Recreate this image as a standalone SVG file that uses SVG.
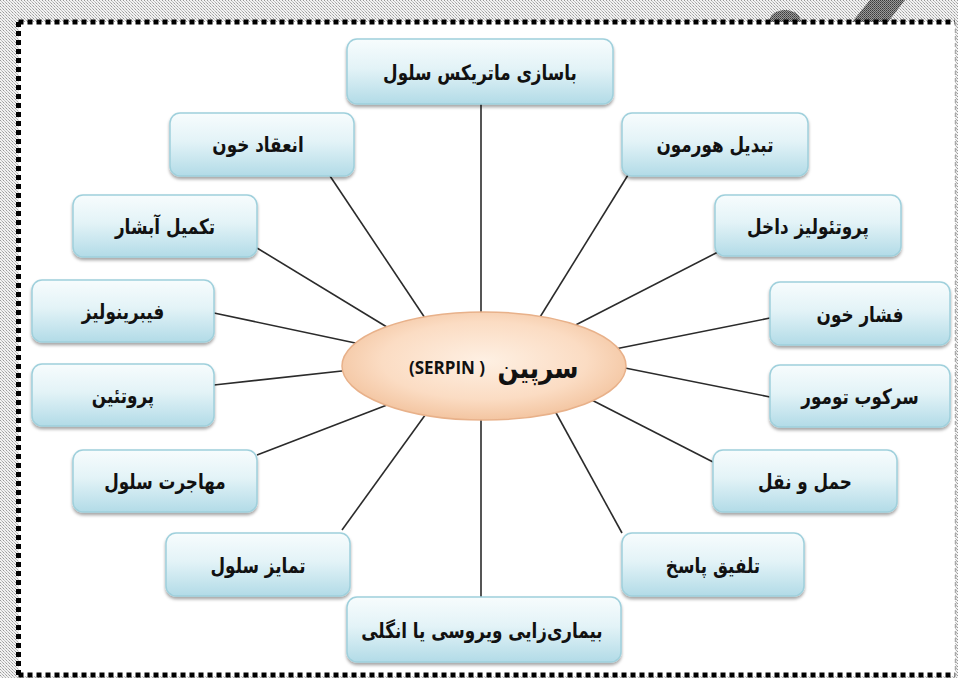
<svg xmlns="http://www.w3.org/2000/svg" width="958" height="678" viewBox="0 0 958 678">
<defs>
<pattern id="dith" width="3" height="3" patternUnits="userSpaceOnUse">
<rect width="3" height="3" fill="#f2f2f2"/>
<rect x="0" y="0" width="1" height="1" fill="#9a9a9a"/>
<rect x="1" y="1" width="1" height="1" fill="#c4c4c4"/>
<rect x="2" y="2" width="1" height="1" fill="#b0b0b0"/>
</pattern>
<pattern id="dark" width="2" height="2" patternUnits="userSpaceOnUse">
<rect width="2" height="2" fill="#9a9a9a"/>
<rect width="1" height="1" fill="#3a3a3a"/>
<rect x="1" y="1" width="1" height="1" fill="#555"/>
</pattern>
<linearGradient id="boxg" x1="0" y1="0" x2="0" y2="1">
<stop offset="0" stop-color="#f7fcfd"/>
<stop offset="0.45" stop-color="#e3f3f7"/>
<stop offset="1" stop-color="#b2dbe7"/>
</linearGradient>
<radialGradient id="ellg" cx="0.5" cy="0.45" r="0.6">
<stop offset="0" stop-color="#fef0e3"/>
<stop offset="0.6" stop-color="#fbdcc3"/>
<stop offset="1" stop-color="#f1bf98"/>
</radialGradient>
<filter id="sh" x="-10%" y="-10%" width="120%" height="135%">
<feDropShadow dx="0" dy="2.5" stdDeviation="1.5" flood-color="#000" flood-opacity="0.35"/>
</filter>
</defs>
<style>
.box{fill:url(#boxg);stroke:#9fd0dc;stroke-width:1.5;filter:url(#sh)}
.lbl{font-family:"DejaVu Sans","Noto Sans",sans-serif;font-weight:bold;font-size:21px;fill:#111;text-anchor:middle}
.con line{stroke:#2b2b2b;stroke-width:1.6}
</style>
<rect width="958" height="678" fill="url(#dith)"/>
<path d="M769 22 A16 12 0 0 1 801 22 Z" fill="url(#dark)"/>
<polygon points="870,0 905,0 888,22 852,22" fill="url(#dark)"/>
<rect x="18.5" y="22" width="936.5" height="654" fill="#fff"/>
<g fill="none">
<line x1="18.5" y1="22" x2="955" y2="22" stroke="#000" stroke-width="5" stroke-dasharray="5 4"/>
<line x1="18.5" y1="22" x2="18.5" y2="676" stroke="#000" stroke-width="5" stroke-dasharray="5 4"/>
<line x1="18.5" y1="675" x2="955" y2="675" stroke="#000" stroke-width="5" stroke-dasharray="5 4"/>
<line x1="955.5" y1="22" x2="955.5" y2="676" stroke="#aaa" stroke-width="1.5" stroke-dasharray="4 3"/>
</g>
<g id="connectors" class="con">
<line x1="481" y1="104" x2="481" y2="330"/>
<line x1="330" y1="176" x2="433" y2="330"/>
<line x1="257" y1="248" x2="400" y2="335"/>
<line x1="214" y1="313" x2="360" y2="344"/>
<line x1="214" y1="385" x2="360" y2="369"/>
<line x1="257" y1="455" x2="400" y2="400"/>
<line x1="342" y1="530" x2="436" y2="400"/>
<line x1="481" y1="597" x2="481" y2="400"/>
<line x1="622" y1="533" x2="549" y2="400"/>
<line x1="713" y1="462" x2="580" y2="394"/>
<line x1="770" y1="397" x2="600" y2="363"/>
<line x1="770" y1="318" x2="600" y2="352"/>
<line x1="718" y1="252" x2="560" y2="333"/>
<line x1="628" y1="175" x2="532" y2="330"/>
</g>
<g id="center">
<ellipse cx="484" cy="366" rx="142" ry="54" fill="url(#ellg)" stroke="#e8b18a" stroke-width="1.5"/>
<text transform="translate(538 378) scale(0.85 1)" font-family="DejaVu Sans,sans-serif" font-weight="bold" font-size="29" fill="#111" text-anchor="middle">سرپین</text>
<text x="447" y="374" font-family="'Open Sans','DejaVu Sans',sans-serif" font-weight="bold" font-size="17" fill="#111" text-anchor="middle">(SERPIN )</text>
</g>
<g id="n-matrix"><rect class="box" x="347" y="39" width="266" height="65" rx="10"/><text class="lbl" transform="translate(480 80) scale(0.8 1)">باسازی ماتریکس سلول</text></g>
<g id="n-coag"><rect class="box" x="170" y="113" width="184" height="63" rx="10"/><text class="lbl" transform="translate(258 152) scale(0.8 1)">انعقاد خون</text></g>
<g id="n-hormone"><rect class="box" x="622" y="113" width="186" height="63" rx="10"/><text class="lbl" transform="translate(715 152) scale(0.8 1)">تبدیل هورمون</text></g>
<g id="n-complement"><rect class="box" x="73" y="195" width="184" height="62" rx="10"/><text class="lbl" transform="translate(165 234) scale(0.8 1)">تکمیل آبشار</text></g>
<g id="n-proteolysis"><rect class="box" x="715" y="195" width="186" height="61" rx="10"/><text class="lbl" transform="translate(808 234) scale(0.8 1)">پروتئولیز داخل</text></g>
<g id="n-fibrinolysis"><rect class="box" x="32" y="280" width="182" height="62" rx="10"/><text class="lbl" transform="translate(123 319) scale(0.8 1)">فیبرینولیز</text></g>
<g id="n-bp"><rect class="box" x="770" y="282" width="180" height="63" rx="10"/><text class="lbl" transform="translate(860 322) scale(0.8 1)">فشار خون</text></g>
<g id="n-protein"><rect class="box" x="32" y="364" width="182" height="62" rx="10"/><text class="lbl" transform="translate(123 403) scale(0.8 1)">پروتئین</text></g>
<g id="n-tumor"><rect class="box" x="770" y="365" width="180" height="62" rx="10"/><text class="lbl" transform="translate(860 404) scale(0.8 1)">سرکوب تومور</text></g>
<g id="n-migration"><rect class="box" x="73" y="450" width="184" height="62" rx="10"/><text class="lbl" transform="translate(165 489) scale(0.8 1)">مهاجرت سلول</text></g>
<g id="n-transport"><rect class="box" x="713" y="450" width="184" height="62" rx="10"/><text class="lbl" transform="translate(805 489) scale(0.8 1)">حمل و نقل</text></g>
<g id="n-diff"><rect class="box" x="166" y="533" width="184" height="63" rx="10"/><text class="lbl" transform="translate(258 573) scale(0.8 1)">تمایز سلول</text></g>
<g id="n-response"><rect class="box" x="622" y="533" width="182" height="63" rx="10"/><text class="lbl" transform="translate(713 573) scale(0.8 1)">تلفیق پاسخ</text></g>
<g id="n-pathogen"><rect class="box" x="347" y="597" width="274" height="65" rx="10"/><text class="lbl" transform="translate(482 638) scale(0.8 1)">بیماری‌زایی ویروسی یا انگلی</text></g>
</svg>
